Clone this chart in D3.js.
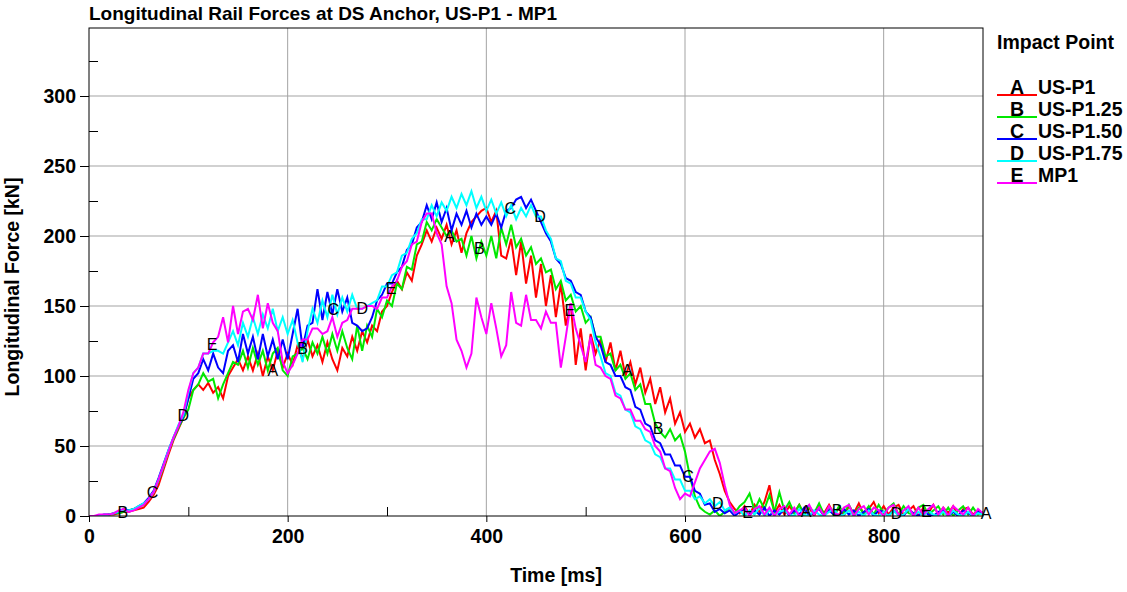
<!DOCTYPE html>
<html><head><meta charset="utf-8">
<script src="https://cdn.jsdelivr.net/npm/d3@7"></script>
<style>body{margin:0;background:#fff} svg{display:block;font-family:"Liberation Sans",Arial,sans-serif}</style>
</head><body><svg id="c" width="1127" height="592"></svg>
<script>
// time axis (ms), sampled every 5 ms
const times = d3.range(0, 901, 5);
const seriesNames = ["US-P1", "US-P1.25", "US-P1.50", "US-P1.75", "MP1"];
const seriesLetters = ["A", "B", "C", "D", "E"];
const seriesColors = ["#ff0000", "#00e800", "#0000ff", "#00ffff", "#ff00ff"];
const xTicks = [0, 200, 400, 600, 800];
const xMinorTicks = [100, 300, 500, 700];
const yTicks = [0, 50, 100, 150, 200, 250, 300];
const yMinorTicks = [25, 75, 125, 175, 225, 275, 325];

// Longitudinal force [kN]
const forceA = [
 0,0,0,0,1,1,2,3,3,4,5,6,10,15,22,33,44,54,62,70,
 84,90,94,90,95,88,92,84,100,106,112,104,114,104,116,100,114,104,118,106,
 116,108,122,112,126,114,122,110,124,112,104,120,114,128,118,132,124,136,132,146,
 150,160,168,162,174,168,186,194,204,196,206,198,208,194,204,188,202,210,214,218,
 220,210,218,186,184,198,172,196,166,186,156,180,150,172,142,166,136,152,108,134,
 104,130,116,126,110,124,104,118,100,110,94,106,88,98,80,92,74,84,66,74,
 60,66,56,62,52,54,40,30,18,10,5,2,7,1,8,3,10,22,2,8,
 1,7,2,8,1,6,0,7,2,8,1,6,0,7,2,9,1,5,10,2,
 7,1,6,8,1,4,7,0,6,2,8,1,6,2,7,0,5,6,1,4,
 2];
const forceB = [
 0,0,0,0,1,2,2,3,4,5,6,8,12,17,25,35,46,55,63,70,
 76,90,94,102,96,98,84,94,102,110,108,118,106,120,108,118,104,116,120,104,
 100,114,116,120,112,124,116,128,116,130,118,132,120,112,136,118,136,128,148,142,
 154,150,166,162,178,176,194,196,210,204,212,206,200,204,196,198,186,200,184,196,
 186,200,184,206,194,208,192,198,186,192,180,184,174,176,162,168,154,158,146,150,
 138,142,128,128,114,116,104,108,98,102,90,94,80,80,66,60,56,62,54,58,
 46,28,14,6,3,1,4,0,3,6,2,7,10,16,4,12,5,15,3,17,
 4,10,2,8,1,7,2,9,1,6,0,7,2,8,1,6,2,7,1,8,
 2,6,9,1,7,2,1,6,8,1,4,7,1,6,0,4,7,1,6,1,
 3];
const forceC = [
 0,0,0,1,1,2,3,5,4,5,7,9,13,18,27,37,47,56,64,71,
 84,98,102,112,104,116,106,102,118,122,110,130,116,128,112,130,114,126,112,126,
 112,130,148,120,136,138,162,140,160,144,162,146,156,138,136,132,134,142,154,158,
 166,166,174,178,190,194,206,210,222,212,224,210,220,204,216,208,218,206,216,208,
 214,208,216,206,218,220,226,228,220,226,218,210,202,196,184,180,170,168,160,158,
 146,142,128,122,110,108,100,100,92,90,78,76,66,64,54,52,44,44,36,36,
 28,28,18,16,8,9,3,5,2,4,0,3,5,1,4,1,6,0,4,1,
 5,0,4,1,6,0,3,5,0,4,1,0,5,1,4,0,3,5,0,4,
 3,0,4,1,0,5,2,0,4,1,0,3,4,0,3,0,4,2,0,3,
 1];
const forceD = [
 0,0,0,0,1,2,3,4,4,5,7,9,12,17,26,36,47,56,65,72,
 88,102,106,116,116,118,118,116,124,132,122,138,128,142,130,144,134,148,132,142,
 130,140,124,110,132,148,138,154,142,158,144,156,146,158,148,148,150,152,154,164,
 164,172,174,186,188,198,202,212,212,222,214,224,218,228,220,230,222,232,220,228,
 218,226,216,224,214,222,212,220,214,222,214,214,204,198,184,182,168,166,156,156,
 146,140,124,114,102,100,88,86,76,74,64,62,54,52,44,42,34,34,26,26,
 18,18,12,14,9,12,7,10,4,6,2,4,0,4,1,6,0,4,1,3,
 4,1,0,5,1,0,4,1,0,3,5,0,1,4,0,3,0,4,1,0,
 3,0,4,0,1,5,0,3,0,4,1,0,3,0,4,1,0,3,0,2,
 1];
const forceE = [
 0,0,1,1,1,2,4,5,3,4,6,8,12,17,26,36,46,56,64,74,
 90,102,106,116,116,124,128,142,124,150,130,146,148,140,158,134,152,138,132,110,
 102,108,116,126,126,134,134,130,132,142,128,138,140,148,148,148,150,150,148,156,
 156,164,168,178,182,194,196,210,216,216,202,194,164,152,126,118,106,116,156,142,
 130,152,134,114,122,160,138,136,158,140,140,134,146,138,138,106,128,152,134,122,
 110,128,108,106,100,98,86,84,76,76,68,68,62,60,50,46,34,32,20,12,
 16,14,24,34,40,46,48,38,22,8,2,4,6,0,5,7,1,6,0,5,
 7,1,6,0,4,8,1,6,0,7,2,1,6,8,0,5,7,1,6,4,
 0,6,8,1,4,7,0,6,1,5,8,1,6,0,7,4,1,6,0,5,
 2];
// times (ms) at which each curve carries its identifying letter
const labelTimesA = [185, 363, 542, 722, 903];
const labelTimesB = [34, 215, 393, 573, 753];
const labelTimesC = [64, 246, 424, 603];
const labelTimesD = [95, 275, 454, 633, 813];
const labelTimesE = [124, 304, 484, 663, 843];

const seriesValues = [forceA, forceB, forceC, forceD, forceE];
const labelTimes = [labelTimesA, labelTimesB, labelTimesC, labelTimesD, labelTimesE];

const L = 89, R = 983, T = 28, B = 516;
const svg = d3.select("#c");
const x = d3.scaleLinear().domain([0, 900]).range([L, R]);
const y = d3.scaleLinear().domain([0, 300]).range([B, 96]);
const FS = "19.5px";

// gridlines
const grid = svg.append("g");
grid.selectAll("line.h").data(yTicks.slice(1)).join("line")
  .attr("x1", L).attr("x2", R).attr("y1", d => y(d)).attr("y2", d => y(d))
  .attr("stroke", "#a3a3a3").attr("stroke-width", 1);
grid.selectAll("line.v").data(xTicks.slice(1)).join("line")
  .attr("y1", T).attr("y2", B).attr("x1", d => x(d)).attr("x2", d => x(d))
  .attr("stroke", "#a3a3a3").attr("stroke-width", 1);

// lines
svg.append("clipPath").attr("id", "clip").append("rect")
  .attr("x", L).attr("y", T).attr("width", R - L).attr("height", B - T);
const lineGen = vals => d3.line().x((d, i) => x(times[i])).y(d => y(d))(vals);
const lg = svg.append("g").attr("clip-path", "url(#clip)");
seriesValues.forEach((vals, k) => {
  lg.append("path").attr("d", lineGen(vals)).attr("fill", "none")
    .attr("stroke", seriesColors[k]).attr("stroke-width", 2).attr("stroke-linejoin", "miter");
});

// frame
svg.append("rect").attr("x", L).attr("y", T).attr("width", R - L).attr("height", B - T)
  .attr("fill", "none").attr("stroke", "#000").attr("stroke-width", 1);

// axes
const xAxis = svg.append("g").attr("transform", `translate(0,${B})`)
  .call(d3.axisBottom(x).tickValues(xTicks).tickSize(6).tickSizeOuter(0).tickPadding(7));
const xMinor = svg.append("g").attr("transform", `translate(0,${B})`)
  .call(d3.axisTop(x).tickValues(xMinorTicks).tickSize(9).tickSizeOuter(0).tickFormat(""));
const yAxis = svg.append("g").attr("transform", `translate(${L},0)`)
  .call(d3.axisLeft(y).tickValues(yTicks).tickSize(9).tickSizeOuter(0).tickPadding(4));
const yMinor = svg.append("g").attr("transform", `translate(${L},0)`)
  .call(d3.axisRight(y).tickValues(yMinorTicks).tickSize(9).tickSizeOuter(0).tickFormat(""));
[xAxis, xMinor, yAxis, yMinor].forEach(a => {
  a.select(".domain").remove();
  a.selectAll("line").attr("stroke", "#000");
  a.selectAll("text").attr("font-family", "Liberation Sans, Arial, sans-serif")
    .attr("font-size", FS).attr("font-weight", "bold").attr("fill", "#000");
});

// curve letters
const valueAt = (vals, t) => {
  const tc = Math.min(t, 900);
  const i = Math.min(Math.floor(tc / 5), times.length - 2);
  const f = (tc - times[i]) / (times[i + 1] - times[i]);
  return vals[i] + (vals[i + 1] - vals[i]) * f;
};
const letG = svg.append("g");
labelTimes.forEach((ts, k) => {
  ts.forEach(t => {
    letG.append("text").attr("x", x(t)).attr("y", y(valueAt(seriesValues[k], t)))
      .attr("text-anchor", "middle").attr("dy", "0.35em")
      .attr("font-size", "16px").attr("fill", "#000").text(seriesLetters[k]);
  });
});

// title
svg.append("text").attr("x", L).attr("y", 20).attr("font-size", "19px").attr("font-weight", "bold")
  .text("Longitudinal Rail Forces at DS Anchor, US-P1 - MP1");
// axis titles
svg.append("text").attr("transform", "translate(19,287) rotate(-90)").attr("text-anchor", "middle")
  .attr("font-size", FS).attr("font-weight", "bold").text("Longitudinal Force [kN]");
svg.append("text").attr("x", 556).attr("y", 582).attr("text-anchor", "middle")
  .attr("font-size", FS).attr("font-weight", "bold").text("Time [ms]");

// legend
const leg = svg.append("g");
leg.append("text").attr("x", 997).attr("y", 49).attr("font-size", FS).attr("font-weight", "bold").text("Impact Point");
seriesNames.forEach((n, k) => {
  const by = 94 + 22 * k;
  leg.append("line").attr("x1", 997).attr("x2", 1037).attr("y1", by + 1).attr("y2", by + 1)
    .attr("stroke", seriesColors[k]).attr("stroke-width", 2);
  leg.append("text").attr("x", 1017).attr("y", by).attr("text-anchor", "middle")
    .attr("font-size", FS).attr("font-weight", "bold").text(seriesLetters[k]);
  leg.append("text").attr("x", 1038).attr("y", by)
    .attr("font-size", FS).attr("font-weight", "bold").text(n);
});
</script></body></html>
